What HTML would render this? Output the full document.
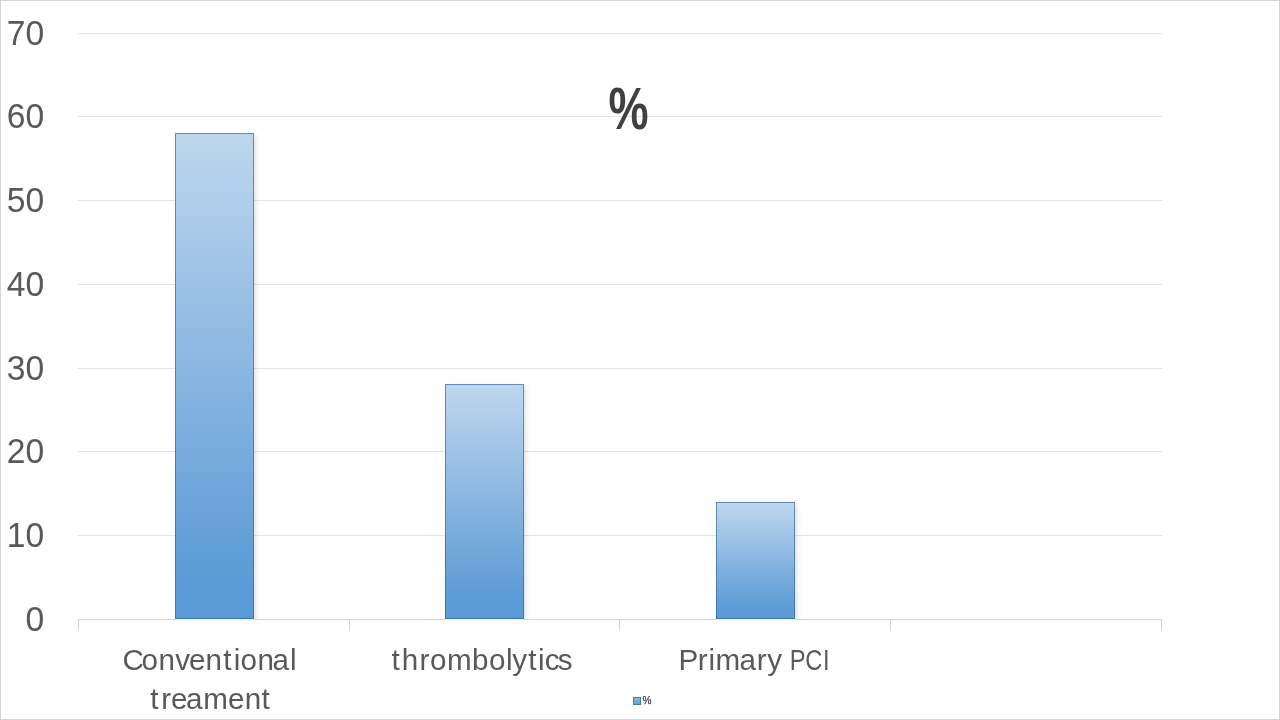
<!DOCTYPE html>
<html lang="en">
<head>
<meta charset="utf-8">
<title>% chart</title>
<style>
  html, body { margin: 0; padding: 0; background: #ffffff; }
  body { width: 1280px; height: 720px; overflow: hidden; position: relative; }
  svg { position: absolute; left: 0; top: 0; display: block; }
  text { font-family: "Liberation Sans", sans-serif; fill: #595959; }
  .dark { fill: #404040; }
</style>
</head>
<body>
<svg width="1280" height="720" viewBox="0 0 1280 720">
  <defs>
    <linearGradient id="bar" x1="0" y1="0" x2="0" y2="1">
      <stop offset="0" stop-color="#bdd7ee"/>
      <stop offset="0.5" stop-color="#89b5e0"/>
      <stop offset="0.9" stop-color="#5d9cd6"/>
      <stop offset="1" stop-color="#5b9bd5"/>
    </linearGradient>
    <linearGradient id="barstroke" x1="0" y1="0" x2="0" y2="1">
      <stop offset="0" stop-color="#648cba"/>
      <stop offset="1" stop-color="#3b74b3"/>
    </linearGradient>
    <linearGradient id="leg" x1="0" y1="0" x2="0" y2="1">
      <stop offset="0" stop-color="#8fbde9"/>
      <stop offset="1" stop-color="#5b9bd5"/>
    </linearGradient>
    <clipPath id="plot"><rect x="0" y="0" width="1280" height="619"/></clipPath>
    <filter id="sh" x="-20%" y="-5%" width="140%" height="110%">
      <feGaussianBlur stdDeviation="2.4"/>
    </filter>
  </defs>

  <!-- background + outer frame -->
  <rect x="0" y="0" width="1280" height="720" fill="#ffffff"/>
  <rect x="0.5" y="0.5" width="1279" height="719" fill="none" stroke="#d6d6d6" stroke-width="1"/>

  <!-- gridlines -->
  <g stroke="#e4e4e4" stroke-width="1" shape-rendering="crispEdges">
    <line x1="78" x2="1162" y1="33.5" y2="33.5"/>
    <line x1="78" x2="1162" y1="116.5" y2="116.5"/>
    <line x1="78" x2="1162" y1="200.5" y2="200.5"/>
    <line x1="78" x2="1162" y1="284.5" y2="284.5"/>
    <line x1="78" x2="1162" y1="368.5" y2="368.5"/>
    <line x1="78" x2="1162" y1="451.5" y2="451.5"/>
    <line x1="78" x2="1162" y1="535.5" y2="535.5"/>
  </g>

  <!-- chart title -->
  <text class="dark" x="628.5" y="129" text-anchor="middle" font-size="60" font-weight="bold" textLength="40" lengthAdjust="spacingAndGlyphs">%</text>

  <!-- category axis -->
  <g stroke="#d4d4d4" stroke-width="1" shape-rendering="crispEdges">
    <line x1="78" x2="1162" y1="619.5" y2="619.5"/>
    <line x1="78.5" x2="78.5" y1="619" y2="630"/>
    <line x1="349.5" x2="349.5" y1="619" y2="630"/>
    <line x1="619.5" x2="619.5" y1="619" y2="630"/>
    <line x1="890.5" x2="890.5" y1="619" y2="630"/>
    <line x1="1161.5" x2="1161.5" y1="619" y2="630"/>
  </g>

  <!-- bar shadows -->
  <g clip-path="url(#plot)">
    <g fill="#1c2f4a" opacity="0.15" filter="url(#sh)">
      <rect x="178" y="136" width="78" height="490"/>
      <rect x="448" y="387" width="78" height="240"/>
      <rect x="719" y="505" width="78" height="122"/>
    </g>
  </g>

  <!-- bars -->
  <g fill="url(#bar)" stroke="url(#barstroke)" stroke-width="1">
    <rect x="175.5" y="133.5" width="78" height="485"/>
    <rect x="445.5" y="384.5" width="78" height="234"/>
    <rect x="716.5" y="502.5" width="78" height="116"/>
  </g>
  <g fill="#e9f1fa" shape-rendering="crispEdges">
    <rect x="175" y="619" width="79" height="1"/>
    <rect x="445" y="619" width="79" height="1"/>
    <rect x="716" y="619" width="79" height="1"/>
  </g>

  <!-- value axis labels -->
  <g font-size="35" text-anchor="end">
    <text x="44.1" y="44.6" textLength="37.4" lengthAdjust="spacingAndGlyphs">70</text>
    <text x="44.1" y="128.3" textLength="37.4" lengthAdjust="spacingAndGlyphs">60</text>
    <text x="44.1" y="212.0" textLength="37.4" lengthAdjust="spacingAndGlyphs">50</text>
    <text x="44.1" y="295.7" textLength="37.4" lengthAdjust="spacingAndGlyphs">40</text>
    <text x="44.1" y="379.5" textLength="37.4" lengthAdjust="spacingAndGlyphs">30</text>
    <text x="44.1" y="463.2" textLength="37.4" lengthAdjust="spacingAndGlyphs">20</text>
    <text x="44.1" y="546.9" textLength="37.4" lengthAdjust="spacingAndGlyphs">10</text>
    <text x="44.1" y="630.6" textLength="18.7" lengthAdjust="spacingAndGlyphs">0</text>
  </g>

  <!-- category labels -->
  <g font-size="29.6">
    <text x="122.62 141.52 158.55 175.30 188.95 205.60 223.27 233.82 240.62 257.60 272.59 289.95" y="669.9">Conventional</text>
    <text x="150.37 161.23 170.95 185.94 203.21 228.05 244.80 261.57" y="708.8">treament</text>
    <text x="391.50 401.83 419.43 429.92 447.11 472.04 489.02 506.05 512.34 528.37 538.12 544.71 557.77" y="669.9">thrombolytics</text>
    <text x="678.54 697.63 708.47 715.61 739.39 756.68 767.22" y="669.9">Primary</text>
    <text transform="scale(0.8,1)" x="987.26 1006.69 1028.89" y="669.9">PCI</text>
  </g>

  <!-- legend -->
  <rect x="633.5" y="697.5" width="7" height="7" fill="url(#leg)" stroke="#4779ae" stroke-width="1"/>
  <text class="dark" x="642.6" y="704.1" font-size="11.5" stroke="#404040" stroke-width="0.25" textLength="9" lengthAdjust="spacingAndGlyphs">%</text>
</svg>
</body>
</html>
